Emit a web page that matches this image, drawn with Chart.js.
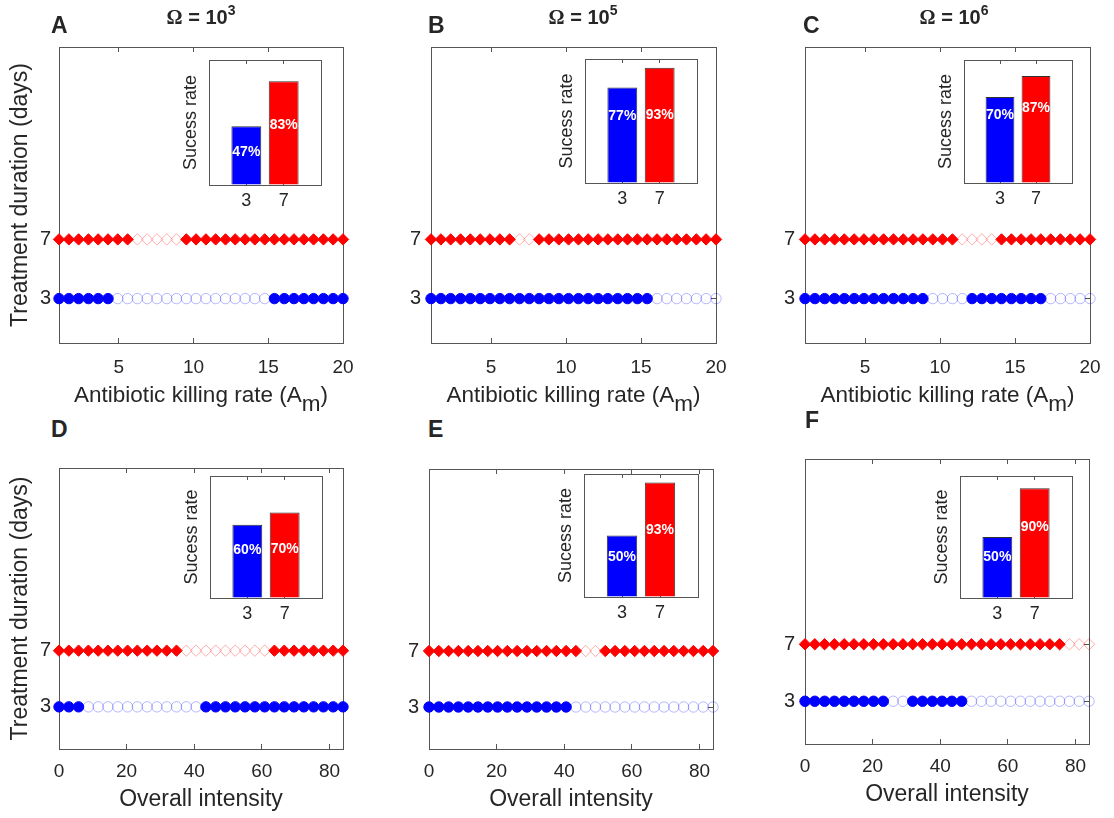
<!DOCTYPE html>
<html><head><meta charset="utf-8">
<script src="https://cdn.jsdelivr.net/npm/chart.js@4.4.1/dist/chart.umd.min.js"></script>
<style>
html,body{margin:0;padding:0;background:#fff;}
body{width:1114px;height:818px;position:relative;overflow:hidden;font-family:"Liberation Sans",Arial,sans-serif;color:#262626;}
canvas{position:absolute;}
.t{position:absolute;white-space:nowrap;line-height:1;}
</style></head><body>
<script>
// ---------------- DATA ----------------
const killingRate = [1.00,1.66,2.31,2.97,3.62,4.28,4.93,5.59,6.24,6.90,7.55,8.21,8.86,9.52,10.17,10.83,11.48,12.14,12.79,13.45,14.10,14.76,15.41,16.07,16.72,17.38,18.03,18.69,19.34,20.00];
const intensity = [0,2.90,5.79,8.69,11.59,14.48,17.38,20.28,23.17,26.07,28.97,31.86,34.76,37.66,40.55,43.45,46.34,49.24,52.14,55.03,57.93,60.83,63.72,66.62,69.52,72.41,75.31,78.21,81.10,84.00];
const durations = [3, 7];
const durationTicks = [3, 7];
const killingTicks = [5, 10, 15, 20];
const intensityTicks = [0, 20, 40, 60, 80];
const omegaExponents = ['3', '5', '6'];

// 1 = treatment success (filled marker), 0 = failure (hollow marker)
const outcomeA3 = [1,1,1,1,1,1,0,0,0,0,0,0,0,0,0,0,0,0,0,0,0,0,1,1,1,1,1,1,1,1];
const outcomeA7 = [1,1,1,1,1,1,1,1,0,0,0,0,0,1,1,1,1,1,1,1,1,1,1,1,1,1,1,1,1,1];
const outcomeB3 = [1,1,1,1,1,1,1,1,1,1,1,1,1,1,1,1,1,1,1,1,1,1,1,0,0,0,0,0,0,0];
const outcomeB7 = [1,1,1,1,1,1,1,1,1,0,0,1,1,1,1,1,1,1,1,1,1,1,1,1,1,1,1,1,1,1];
const outcomeC3 = [1,1,1,1,1,1,1,1,1,1,1,1,1,0,0,0,0,1,1,1,1,1,1,1,1,0,0,0,0,0];
const outcomeC7 = [1,1,1,1,1,1,1,1,1,1,1,1,1,1,1,1,0,0,0,0,1,1,1,1,1,1,1,1,1,1];
const outcomeD3 = [1,1,1,0,0,0,0,0,0,0,0,0,0,0,0,1,1,1,1,1,1,1,1,1,1,1,1,1,1,1];
const outcomeD7 = [1,1,1,1,1,1,1,1,1,1,1,1,1,0,0,0,0,0,0,0,0,0,1,1,1,1,1,1,1,1];
const outcomeE3 = [1,1,1,1,1,1,1,1,1,1,1,1,1,1,1,0,0,0,0,0,0,0,0,0,0,0,0,0,0,0];
const outcomeE7 = [1,1,1,1,1,1,1,1,1,1,1,1,1,1,1,1,0,0,1,1,1,1,1,1,1,1,1,1,1,1];
const outcomeF3 = [1,1,1,1,1,1,1,1,1,0,0,1,1,1,1,1,1,0,0,0,0,0,0,0,0,0,0,0,0,0];
const outcomeF7 = [1,1,1,1,1,1,1,1,1,1,1,1,1,1,1,1,1,1,1,1,1,1,1,1,1,1,1,0,0,0];

// success rates for durations [3, 7]
const successA = [0.47, 0.83];
const successB = [0.77, 0.93];
const successC = [0.70, 0.87];
const successD = [0.60, 0.70];
const successE = [0.50, 0.93];
const successF = [0.50, 0.90];

// ---------------- STYLE / LAYOUT ----------------
const FONT = '"Liberation Sans", Arial, Helvetica, sans-serif';
const C = {red:'#ff0000', blue:'#0000ff', redLight:'rgba(255,0,0,0.32)', blueLight:'rgba(0,0,255,0.28)', axis:'#555555', text:'#262626'};

// labelAt: vertical position of the percentage text, as a fraction of the inset height
const panels = [
  {letter:'A', xs:killingRate, xmin:1, xmax:20, xticks:killingTicks, o3:outcomeA3, o7:outcomeA7, rate:successA,
   box:{l:59,t:47,r:343,b:343}, cl:0, yTitle:true, xTitle:'am', inset:{l:209,t:60,r:321,b:185}, labelAt:[0.26,0.48]},
  {letter:'B', xs:killingRate, xmin:1, xmax:20, xticks:killingTicks, o3:outcomeB3, o7:outcomeB7, rate:successB,
   box:{l:431,t:47,r:716,b:343}, cl:380, yTitle:false, xTitle:'am', inset:{l:585,t:59,r:697,b:183}, labelAt:[0.54,0.55]},
  {letter:'C', xs:killingRate, xmin:1, xmax:20, xticks:killingTicks, o3:outcomeC3, o7:outcomeC7, rate:successC,
   box:{l:805,t:47,r:1090,b:343}, cl:760, yTitle:false, xTitle:'am', inset:{l:964,t:60,r:1072,b:183}, labelAt:[0.55,0.61]},
  {letter:'D', xs:intensity, xmin:0, xmax:84, xticks:intensityTicks, o3:outcomeD3, o7:outcomeD7, rate:successD,
   box:{l:59,t:468,r:343,b:749}, cl:0, yTitle:true, xTitle:'Overall intensity', inset:{l:210,t:476,r:322,b:598}, labelAt:[0.39,0.40]},
  {letter:'E', xs:intensity, xmin:0, xmax:84, xticks:intensityTicks, o3:outcomeE3, o7:outcomeE7, rate:successE,
   box:{l:429,t:469,r:713,b:749}, cl:380, yTitle:false, xTitle:'Overall intensity', inset:{l:584,t:474,r:698,b:597}, labelAt:[0.32,0.545]},
  {letter:'F', xs:intensity, xmin:0, xmax:84, xticks:intensityTicks, o3:outcomeF3, o7:outcomeF7, rate:successF,
   box:{l:805,t:459,r:1089,b:744}, cl:760, yTitle:false, xTitle:'Overall intensity', inset:{l:960,t:476,r:1072,b:598}, labelAt:[0.335,0.58]}
];

function addCanvas(left, top, w, h) {
  const c = document.createElement('canvas');
  c.width = w; c.height = h;
  c.style.left = left + 'px'; c.style.top = top + 'px';
  c.style.width = w + 'px'; c.style.height = h + 'px';
  document.body.appendChild(c);
  return c;
}
function addText(html, x, baseline, size, opts) {
  opts = opts || {};
  const d = document.createElement('div');
  d.className = 't';
  d.innerHTML = html;
  d.style.fontSize = size + 'px';
  d.style.fontWeight = opts.bold ? 'bold' : 'normal';
  d.style.top = (baseline - 0.8465 * size) + 'px';
  d.style.left = x + 'px';
  if (opts.center) d.style.transform = 'translateX(-50%)';
  document.body.appendChild(d);
}

function pick(xs, outcome, y, want) {
  const pts = [];
  xs.forEach((x, i) => { if (outcome[i] === want) pts.push({x: x, y: y}); });
  return pts;
}
function fixedTicks(vals) { return s => { s.ticks = vals.map(v => ({value: v})); }; }
function noPad(s) { s.paddingTop = 0; s.paddingBottom = 0; s.paddingLeft = 0; s.paddingRight = 0; }
function edgeScale(pos, min, max, vals, tl) {
  return {type:'linear', position:pos, min:min, max:max, offset:false,
    afterBuildTicks: fixedTicks(vals),
    afterFit: s => { if (pos === 'top') s.height = 0; else s.width = 0; noPad(s); },
    ticks:{display:false},
    grid:{offset:false, drawOnChartArea:false, drawTicks:vals.length > 0, tickLength:tl, color:C.axis, lineWidth:1},
    border:{display:true, color:C.axis, width:1}};
}

function makeMain(p) {
  const padT = 12, padR = 14, xH = 70;
  const cl = p.cl, ct = p.box.t - padT;
  const cw = p.box.r + padR - cl, ch = p.box.b + xH - ct;
  const cv = addCanvas(cl, ct, cw, ch);
  const yW = p.box.l - cl;
  const base = {clip:false};
  const datasets = [
    Object.assign({data: pick(p.xs, p.o7, 7, 0), pointStyle:'rectRot', pointRadius:5.7, backgroundColor:'rgba(0,0,0,0)', borderColor:C.redLight, pointBorderWidth:1}, base),
    Object.assign({data: pick(p.xs, p.o7, 7, 1), pointStyle:'rectRot', pointRadius:5.7, backgroundColor:C.red, borderColor:C.red, pointBorderWidth:1}, base),
    Object.assign({data: pick(p.xs, p.o3, 3, 0), pointStyle:'circle', pointRadius:5.2, backgroundColor:'rgba(0,0,0,0)', borderColor:C.blueLight, pointBorderWidth:1}, base),
    Object.assign({data: pick(p.xs, p.o3, 3, 1), pointStyle:'circle', pointRadius:5.2, backgroundColor:C.blue, borderColor:C.blue, pointBorderWidth:1}, base)
  ];
  const bottomGap = p.box.b >= 749 || p.letter === 'F' ? 23 : 25;
  new Chart(cv, {
    type:'scatter',
    data:{datasets: datasets},
    options:{
      responsive:false, animation:false, events:[],
      layout:{padding:{top:padT, right:padR, left:0, bottom:0}},
      plugins:{legend:{display:false}, tooltip:{enabled:false}},
      scales:{
        x:{type:'linear', position:'bottom', min:p.xmin, max:p.xmax,
          afterBuildTicks: fixedTicks(p.xticks),
          afterFit: s => { s.height = xH; noPad(s); },
          grid:{drawOnChartArea:false, drawTicks:true, tickLength:-5, color:C.axis, lineWidth:1},
          border:{display:true, color:C.axis, width:1},
          ticks:{color:C.text, font:{family:FONT, size:19}, padding: bottomGap + 5 - 11.4, maxRotation:0, autoSkip:false},
          title:{display: p.xTitle !== 'am', text: p.xTitle, color:C.text, font:{family:FONT, size:23},
                 padding:{top:0, bottom: xH - 51 - 13.8}}
        },
        xTop: edgeScale('top', p.xmin, p.xmax, p.xticks, -5),
        y:{type:'linear', position:'left', min:0, max:20,
          afterBuildTicks: fixedTicks(durationTicks),
          afterFit: s => { s.width = yW; noPad(s); },
          grid:{drawOnChartArea:false, drawTicks:true, tickLength:-5, color:C.axis, lineWidth:1},
          border:{display:true, color:C.axis, width:1},
          ticks:{color:C.text, font:{family:FONT, size:20}, padding: p.yTitle ? 13 : 15},
          title:{display:p.yTitle, text:'Treatment duration (days)', color:C.text, font:{family:FONT, size:23},
                 padding:{top:7, bottom:0}}
        },
        yRight: edgeScale('right', 0, 20, durationTicks, -5)
      }
    }
  });
}

const pctLabels = {
  id:'pctLabels',
  afterDatasetsDraw(chart, args, opts) {
    const ctx = chart.ctx, meta = chart.getDatasetMeta(0), ys = chart.scales.y;
    const ds = chart.data.datasets[0].data;
    meta.data.forEach((bar, i) => {
      const v = ds[i].y;
      ctx.save();
      ctx.fillStyle = '#ffffff';
      ctx.font = 'bold 14px ' + FONT;
      ctx.textAlign = 'center';
      ctx.textBaseline = 'middle';
      ctx.fillText(Math.round(v * 100) + '%', bar.x, ys.getPixelForValue(opts.at[i]));
      ctx.restore();
    });
  }
};

function makeInset(p) {
  const b = p.inset, yW = 40, xH = 34, padT = 6, padR = 6;
  const cl = b.l - yW, ct = b.t - padT;
  const cv = addCanvas(cl, ct, b.r + padR - cl, b.b + xH - ct);
  new Chart(cv, {
    type:'bar',
    data:{datasets:[{
      data: durations.map((d, i) => ({x: i + 1, y: p.rate[i]})),
      backgroundColor:[C.blue, C.red], borderColor:'#333333', borderWidth:1,
      barPercentage:0.8, categoryPercentage:1
    }]},
    options:{
      responsive:false, animation:false, events:[],
      layout:{padding:{top:padT, right:padR, left:0, bottom:0}},
      plugins:{legend:{display:false}, tooltip:{enabled:false}, pctLabels:{at:p.labelAt}},
      scales:{
        x:{type:'linear', position:'bottom', min:0, max:3, offset:false,
          afterBuildTicks: fixedTicks([1, 2]),
          afterFit: s => { s.height = xH; noPad(s); },
          grid:{offset:false, drawOnChartArea:false, drawTicks:true, tickLength:-4, color:C.axis},
          border:{display:true, color:C.axis, width:1},
          ticks:{color:C.text, font:{family:FONT, size:18}, padding:9.2, callback: v => durations[v - 1], maxRotation:0, autoSkip:false}
        },
        xTop: edgeScale('top', 0, 3, [1, 2], -4),
        y:{type:'linear', position:'left', min:0, max:1,
          afterFit: s => { s.width = yW; noPad(s); },
          ticks:{display:false},
          grid:{drawOnChartArea:false, drawTicks:false},
          border:{display:true, color:C.axis, width:1},
          title:{display:true, text:'Sucess rate', color:C.text, font:{family:FONT, size:18}, padding:{top:11.4, bottom:0}}
        },
        yRight: edgeScale('right', 0, 1, [], 0)
      }
    },
    plugins:[pctLabels]
  });
}

// ---------------- BUILD ----------------
panels.forEach(p => { makeMain(p); makeInset(p); });

// Panel letters
addText('A', 51, 33, 23, {bold:true});
addText('B', 428, 33, 23, {bold:true});
addText('C', 803, 33, 23, {bold:true});
addText('D', 51, 437, 23, {bold:true});
addText('E', 428, 437, 23, {bold:true});
addText('F', 805, 428, 23, {bold:true});

// Column titles
const omegaX = [201, 583, 954];
omegaExponents.forEach((e, i) => {
  addText('<span style="font-family:\'Liberation Serif\',serif">&Omega;</span> = 10<span style="font-size:14px;position:relative;top:-9px">' + e + '</span>',
    omegaX[i], 24, 20, {bold:true, center:true});
});

// x-axis titles with subscript for the top row
panels.filter(p => p.xTitle === 'am').forEach(p => {
  addText('Antibiotic killing rate (A<span style="position:relative;top:9px">m</span>)', (p.box.l + p.box.r) / 2, 403, 22.5, {center:true});
});
</script>
</body></html>
